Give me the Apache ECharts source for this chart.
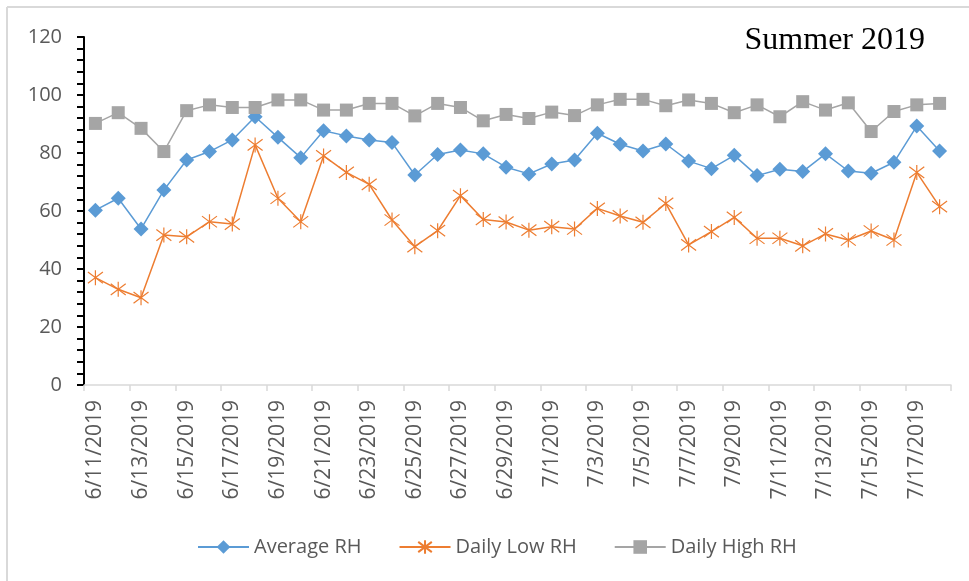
<!DOCTYPE html>
<html>
<head>
<meta charset="utf-8">
<script src="https://cdn.jsdelivr.net/npm/echarts@6/dist/echarts.min.js"></script>
<style>
html,body{margin:0;padding:0;background:#fff;}
#chart{width:969px;height:581px;}
</style>
</head>
<body>
<div id="chart"></div>
<script>
var dates = ['6/11/2019','6/12/2019','6/13/2019','6/14/2019','6/15/2019','6/16/2019','6/17/2019','6/18/2019','6/19/2019','6/20/2019',
  '6/21/2019','6/22/2019','6/23/2019','6/24/2019','6/25/2019','6/26/2019','6/27/2019','6/28/2019','6/29/2019','6/30/2019',
  '7/1/2019','7/2/2019','7/3/2019','7/4/2019','7/5/2019','7/6/2019','7/7/2019','7/8/2019','7/9/2019','7/10/2019',
  '7/11/2019','7/12/2019','7/13/2019','7/14/2019','7/15/2019','7/16/2019','7/17/2019','7/18/2019'];
var averageRH = [60.3, 64.4, 53.8, 67.2, 77.6, 80.5, 84.5, 92.5, 85.4, 78.4, 87.7, 85.9, 84.5, 83.6, 72.4, 79.5, 81.0, 79.7, 75.1, 72.8,
  76.2, 77.6, 86.8, 83.0, 80.7, 83.1, 77.2, 74.6, 79.2, 72.2, 74.4, 73.6, 79.7, 73.8, 73.0, 76.8, 89.3, 80.7];
var dailyLowRH = [37.0, 33.0, 30.1, 51.7, 51.1, 56.3, 55.5, 82.8, 64.4, 56.3, 79.0, 73.3, 69.2, 56.9, 47.7, 53.2, 65.3, 57.1, 56.2, 53.4,
  54.6, 53.8, 60.9, 58.3, 56.1, 62.6, 48.3, 52.9, 57.8, 50.6, 50.6, 48.0, 52.1, 50.0, 53.1, 50.0, 73.3, 61.5];
var dailyHighRH = [90.2, 93.9, 88.5, 80.5, 94.6, 96.6, 95.7, 95.7, 98.3, 98.3, 94.8, 94.8, 97.1, 97.1, 92.8, 97.1, 95.7, 91.1, 93.3, 91.9,
  94.1, 92.9, 96.6, 98.5, 98.5, 96.3, 98.3, 97.1, 93.9, 96.6, 92.5, 97.7, 94.8, 97.3, 87.4, 94.3, 96.6, 97.1];
var yTicks = [0, 20, 40, 60, 80, 100, 120];

var FONT = '"Open Sans", "Liberation Sans", sans-serif';
var starPath = 'path://M0,-1L0,1M-0.87,-0.75L0.87,0.75M-0.87,0.75L0.87,-0.75';

var chart = echarts.init(document.getElementById('chart'), null, {renderer: 'canvas'});
chart.setOption({
  animation: false,
  backgroundColor: '#ffffff',
  graphic: [
    {type: 'line', shape: {x1: 7, y1: 7, x2: 969, y2: 7}, style: {stroke: '#d9d9d9', lineWidth: 2}, silent: true},
    {type: 'line', shape: {x1: 7, y1: 7, x2: 7, y2: 581}, style: {stroke: '#d9d9d9', lineWidth: 2}, silent: true},
    {type: 'text', x: 925, y: 41, style: {text: 'Summer 2019', font: '32px "Liberation Serif", "Times New Roman", serif', fill: '#000000', align: 'right', verticalAlign: 'middle'}, silent: true}
  ],
  grid: {left: 84, right: 18, top: 37, bottom: 196, containLabel: false},
  legend: {
    left: 192, top: 532,
    itemWidth: 51, itemHeight: 17, itemGap: 37,
    textStyle: {fontFamily: FONT, fontSize: 20, color: '#595959'},
    data: ['Average RH', 'Daily Low RH', 'Daily High RH']
  },
  xAxis: {
    type: 'category',
    data: dates,
    boundaryGap: true,
    axisLine: {show: true, lineStyle: {color: '#d9d9d9', width: 1.5}},
    axisTick: {show: true, interval: 1, length: 6, lineStyle: {color: '#d9d9d9', width: 1.5}},
    axisLabel: {interval: 1, rotate: 90, margin: 15, fontFamily: FONT, fontSize: 21, color: '#595959'},
    splitLine: {show: false}
  },
  yAxis: {
    type: 'value',
    min: 0, max: 120, interval: 20,
    axisLine: {show: true, lineStyle: {color: '#000000', width: 2}},
    axisTick: {show: true, length: 7, lineStyle: {color: '#000000', width: 2}},
    minorTick: {show: true, splitNumber: 5, length: 7, lineStyle: {color: '#000000', width: 2}},
    axisLabel: {margin: 22, fontFamily: FONT, fontSize: 20, color: '#595959',
      formatter: function (v) { return yTicks.indexOf(v) >= 0 ? String(v) : ''; }},
    splitLine: {show: false}
  },
  series: [
    {
      name: 'Average RH', type: 'line', data: averageRH,
      symbol: 'diamond', symbolSize: 15,
      lineStyle: {color: '#5B9BD5', width: 1.5},
      itemStyle: {color: '#5B9BD5'}
    },
    {
      name: 'Daily Low RH', type: 'line', data: dailyLowRH,
      symbol: starPath, symbolSize: 15,
      lineStyle: {color: '#ED7D31', width: 1.5},
      itemStyle: {color: '#ED7D31', borderColor: '#ED7D31', borderWidth: 1.2}
    },
    {
      name: 'Daily High RH', type: 'line', data: dailyHighRH,
      symbol: 'rect', symbolSize: 13,
      lineStyle: {color: '#A5A5A5', width: 1.5},
      itemStyle: {color: '#A5A5A5'}
    }
  ]
});
</script>
</body>
</html>
